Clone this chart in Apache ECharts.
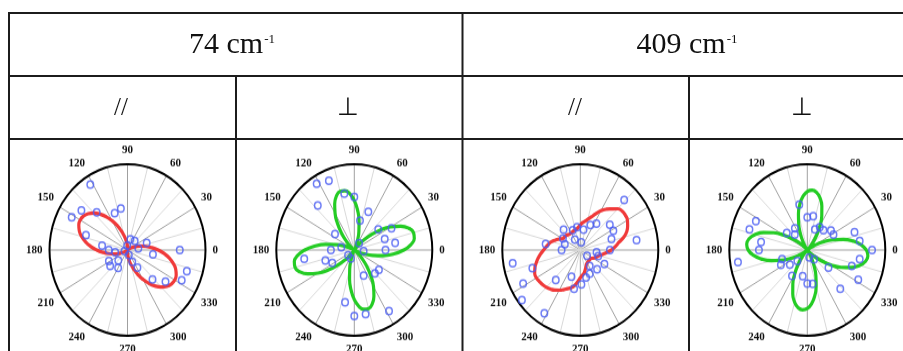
<!DOCTYPE html>
<html>
<head>
<meta charset="utf-8">
<script src="https://cdn.jsdelivr.net/npm/echarts@6/dist/echarts.min.js"></script>
<style>
html, body { margin: 0; padding: 0; background: #fff; overflow: hidden; }
#frame { position: absolute; left: 0; top: 0; width: 903px; height: 351px; }
#plots { position: absolute; left: 0; top: 139px; width: 903px; height: 212px;
         transform: scaleY(1.1); transform-origin: 0 111px; }
</style>
</head>
<body>
<div id="frame"></div>
<div id="plots"></div>
<script>
// Table headings
const modeLabels = ['74 cm', '409 cm'];
const unitSup = '-1';
const configLabels = ['//', '\u22A5', '//', '\u22A5'];

// Polar angle ticks (degrees)
const angleTickStep = 30;

// Angles at which the fitted curves are sampled
const fitAngles = [0,5,10,15,20,25,30,35,40,45,50,55,60,65,70,75,80,85,90,95,100,105,110,115,
  120,125,130,135,140,145,150,155,160,165,170,175,180,185,190,195,200,205,210,215,220,225,230,235,
  240,245,250,255,260,265,270,275,280,285,290,295,300,305,310,315,320,325,330,335,340,345,350,355,360];

// Fitted intensity (radius) for each panel
const fit74Par = [39.4,31.5,24.1,17.5,12.0,7.6,4.4,2.2,1.0,0.3,0.1,0,0,0,0.1,0.3,1.0,2.2,4.4,7.6,12.0,17.5,24.1,31.5,
  39.4,47.2,54.6,60.9,65.8,68.9,70.0,68.9,65.8,60.9,54.6,47.2,
  39.4,31.5,24.1,17.5,12.0,7.6,4.4,2.2,1.0,0.3,0.1,0,0,0,0.1,0.3,1.0,2.2,4.4,7.6,12.0,17.5,24.1,31.5,
  39.4,47.2,54.6,60.9,65.8,68.9,70.0,68.9,65.8,60.9,54.6,47.2,39.4];
const fit74Perp = [63.5,72.9,78.1,78.6,74.3,65.6,53.8,40.3,26.7,14.8,5.8,0.8,0.4,4.3,12.1,22.8,34.9,47.0,
  57.7,65.7,70.2,70.7,67.0,59.5,49.3,37.3,25.1,14.1,5.6,0.8,0.4,4.4,12.7,24.2,37.5,51.2,
  63.5,72.9,78.1,78.6,74.3,65.6,53.8,40.3,26.7,14.8,5.8,0.8,0.4,4.3,12.1,22.8,34.9,47.0,
  57.7,65.7,70.2,70.7,67.0,59.5,49.3,37.3,25.1,14.1,5.6,0.8,0.4,4.4,12.7,24.2,37.5,51.2,63.5];
const fit409Par = [40,45,50,57.5,63.5,67,69.8,70.5,70.3,68,62.5,58,53,46.5,41,37,34,32,29,27,25,24.5,24,23.5,
  23,23,23.5,24.5,25,25.5,26.5,30,34,38,41,43.8,47,51,55,58.5,62,64.5,65,64,63,61.5,59.5,57,
  54,51,48,45.5,42,37,32.5,29.5,27.5,24,21,18.5,17.5,17,16.5,16.5,16.5,17,19,21,23,25,29,34,40];
const fit409Perp = [75.8,69.5,59.8,47.7,34.6,21.8,10.9,3.2,0,3.1,10.5,20.7,32.2,43.9,54.5,62.8,68.2,70.0,
  68.2,62.8,54.5,43.9,32.2,20.7,10.5,3.1,0,3.2,10.9,21.8,34.6,47.7,59.8,69.5,75.8,78.0,
  75.8,69.5,59.8,47.7,34.6,21.8,10.9,3.2,0,3.1,10.5,20.7,32.2,43.9,54.5,62.8,68.2,70.0,
  68.2,62.8,54.5,43.9,32.2,20.7,10.5,3.1,0,3.2,10.9,21.8,34.6,47.7,59.8,69.5,75.8,78.0,75.8];

// Measured points: [intensity, angle in degrees]
const pts74Par = [[90,122],[75,142],[81,152],[59,132],[46,111],[49,100],[56,162],[33,171],[24,180],[16,189],
  [27,208],[29,220],[17,226],[24,240],[6,286],[15,294],[24,302],[13,73],[14,49],[14,8],[26,19],[33,351],
  [67,0],[80,342],[78,333],[47,313],[61,323],[5,95],[4,200]];
const pts74Perp = [[91,122],[87,112],[70,132],[67,101],[62,90],[48,68],[35,78],[31,143],[17,169],[30,180],
  [39,198],[32,208],[65,189],[10,217],[11,246],[12,354],[10,52],[39,38],[54,28],[41,18],[53,9],[40,0],
  [39,324],[38,314],[32,292],[62,259],[77,270],[76,281],[84,302]];
const pts409Par = [[81,46],[73,9],[48,38],[48,28],[42,18],[38,0],[37,56],[32,66],[24,80],[27,99],[25,113],
  [32,132],[26,149],[21,161],[24,180],[45,171],[14,120],[9,82],[11,322],[21,353],[24,343],[35,332],[31,314],
  [30,294],[33,283],[40,272],[46,260],[33,250],[47,228],[65,199],[88,190],[83,208],[95,218],[87,238],[22,303]];
const pts409Perp = [[54,101],[38,90],[40,79],[26,68],[31,59],[31,48],[38,37],[38,28],[64,19],[68,9],[83,0],
  [68,351],[60,342],[74,332],[62,313],[34,323],[14,308],[9,287],[40,280],[39,270],[31,259],[36,237],[18,225],
  [28,217],[38,207],[34,198],[90,189],[62,180],[60,171],[78,162],[74,153],[33,143],[30,122],[24,132]];

const panels = [
  { fit: fit74Par,   pts: pts74Par,   color: '#f03a3a' },
  { fit: fit74Perp,  pts: pts74Perp,  color: '#24cc24' },
  { fit: fit409Par,  pts: pts409Par,  color: '#f03a3a' },
  { fit: fit409Perp, pts: pts409Perp, color: '#24cc24' }
];

// ---- table frame and headings ----
const frame = echarts.init(document.getElementById('frame'), null, { renderer: 'canvas' });
const ruleStyle = { stroke: '#1c1c1c', lineWidth: 2 };
const hRule = (y, x1, x2) => ({ type: 'line', silent: true, shape: { x1: x1, y1: y, x2: x2, y2: y }, style: ruleStyle });
const vRule = (x, y1, y2) => ({ type: 'line', silent: true, shape: { x1: x, y1: y1, x2: x, y2: y2 }, style: ruleStyle });
const serif = "'Liberation Serif', 'Times New Roman', serif";

const headText = (label, cx) => ({
  type: 'text', x: cx, y: 45, silent: true,
  style: {
    text: '{m|' + label + '}{s|' + unitSup + '}',
    align: 'center', verticalAlign: 'middle',
    rich: {
      m: { fontSize: 30, fontFamily: serif, fill: '#111' },
      s: { fontSize: 13, fontFamily: serif, fill: '#111', verticalAlign: 'top', padding: [3, 0, 0, 1] }
    }
  }
});
const subText = (label, cx) => ({
  type: 'text', x: cx, y: 108, silent: true,
  style: { text: label, align: 'center', verticalAlign: 'middle', fontSize: 25, fontFamily: serif, fill: '#111' }
});

const subCenters = [121, 348, 575, 802];
frame.setOption({
  animation: false,
  graphic: [
    hRule(13, 8, 903), hRule(76, 8, 903), hRule(139, 8, 903),
    vRule(9, 12, 351), vRule(462.5, 12, 351), vRule(236, 76, 351), vRule(689, 76, 351),
    headText(modeLabels[0], 232), headText(modeLabels[1], 687),
    ...configLabels.map((t, i) => subText(t, subCenters[i]))
  ]
});

// ---- polar panels ----
const plots = echarts.init(document.getElementById('plots'), null, { renderer: 'canvas' });
const polarCenters = [127.5, 354.3, 580.3, 807.3];

const option = {
  animation: false,
  polar: polarCenters.map(cx => ({ center: [cx, 111], radius: 78 })),
  angleAxis: panels.map((p, i) => ({
    polarIndex: i, type: 'value', min: 0, max: 360, interval: angleTickStep,
    startAngle: 0, clockwise: false,
    axisLine: { lineStyle: { color: '#000', width: 2 } },
    axisTick: { show: false },
    axisLabel: {
      margin: 7, color: '#111', fontFamily: serif, fontWeight: 'bold', fontSize: 11,
      formatter: v => (v === 360 ? '' : String(v))
    },
    splitLine: { show: true, lineStyle: { color: '#a0a0a0', width: 1 } },
    minorTick: { show: false, splitNumber: 2 },
    minorSplitLine: { show: true, lineStyle: { color: '#d8d8d8', width: 1 } }
  })),
  radiusAxis: panels.map((p, i) => ({
    polarIndex: i, type: 'value', min: 0, max: 100,
    axisLine: { show: false }, axisTick: { show: false }, axisLabel: { show: false },
    splitLine: { show: false }
  })),
  series: []
};

panels.forEach((p, i) => {
  option.series.push({
    type: 'line', coordinateSystem: 'polar', polarIndex: i,
    data: fitAngles.map((a, k) => [p.fit[k], a]),
    smooth: true, showSymbol: false, symbol: 'none',
    lineStyle: { color: p.color, width: 3.2 }, z: 2
  });
  option.series.push({
    type: 'scatter', coordinateSystem: 'polar', polarIndex: i,
    data: p.pts, symbol: 'circle', symbolSize: 6.5,
    itemStyle: { color: 'rgba(0,0,0,0)', borderColor: '#4a5cf2', borderWidth: 1.5 }, z: 3
  });
});

plots.setOption(option);
</script>
</body>
</html>
